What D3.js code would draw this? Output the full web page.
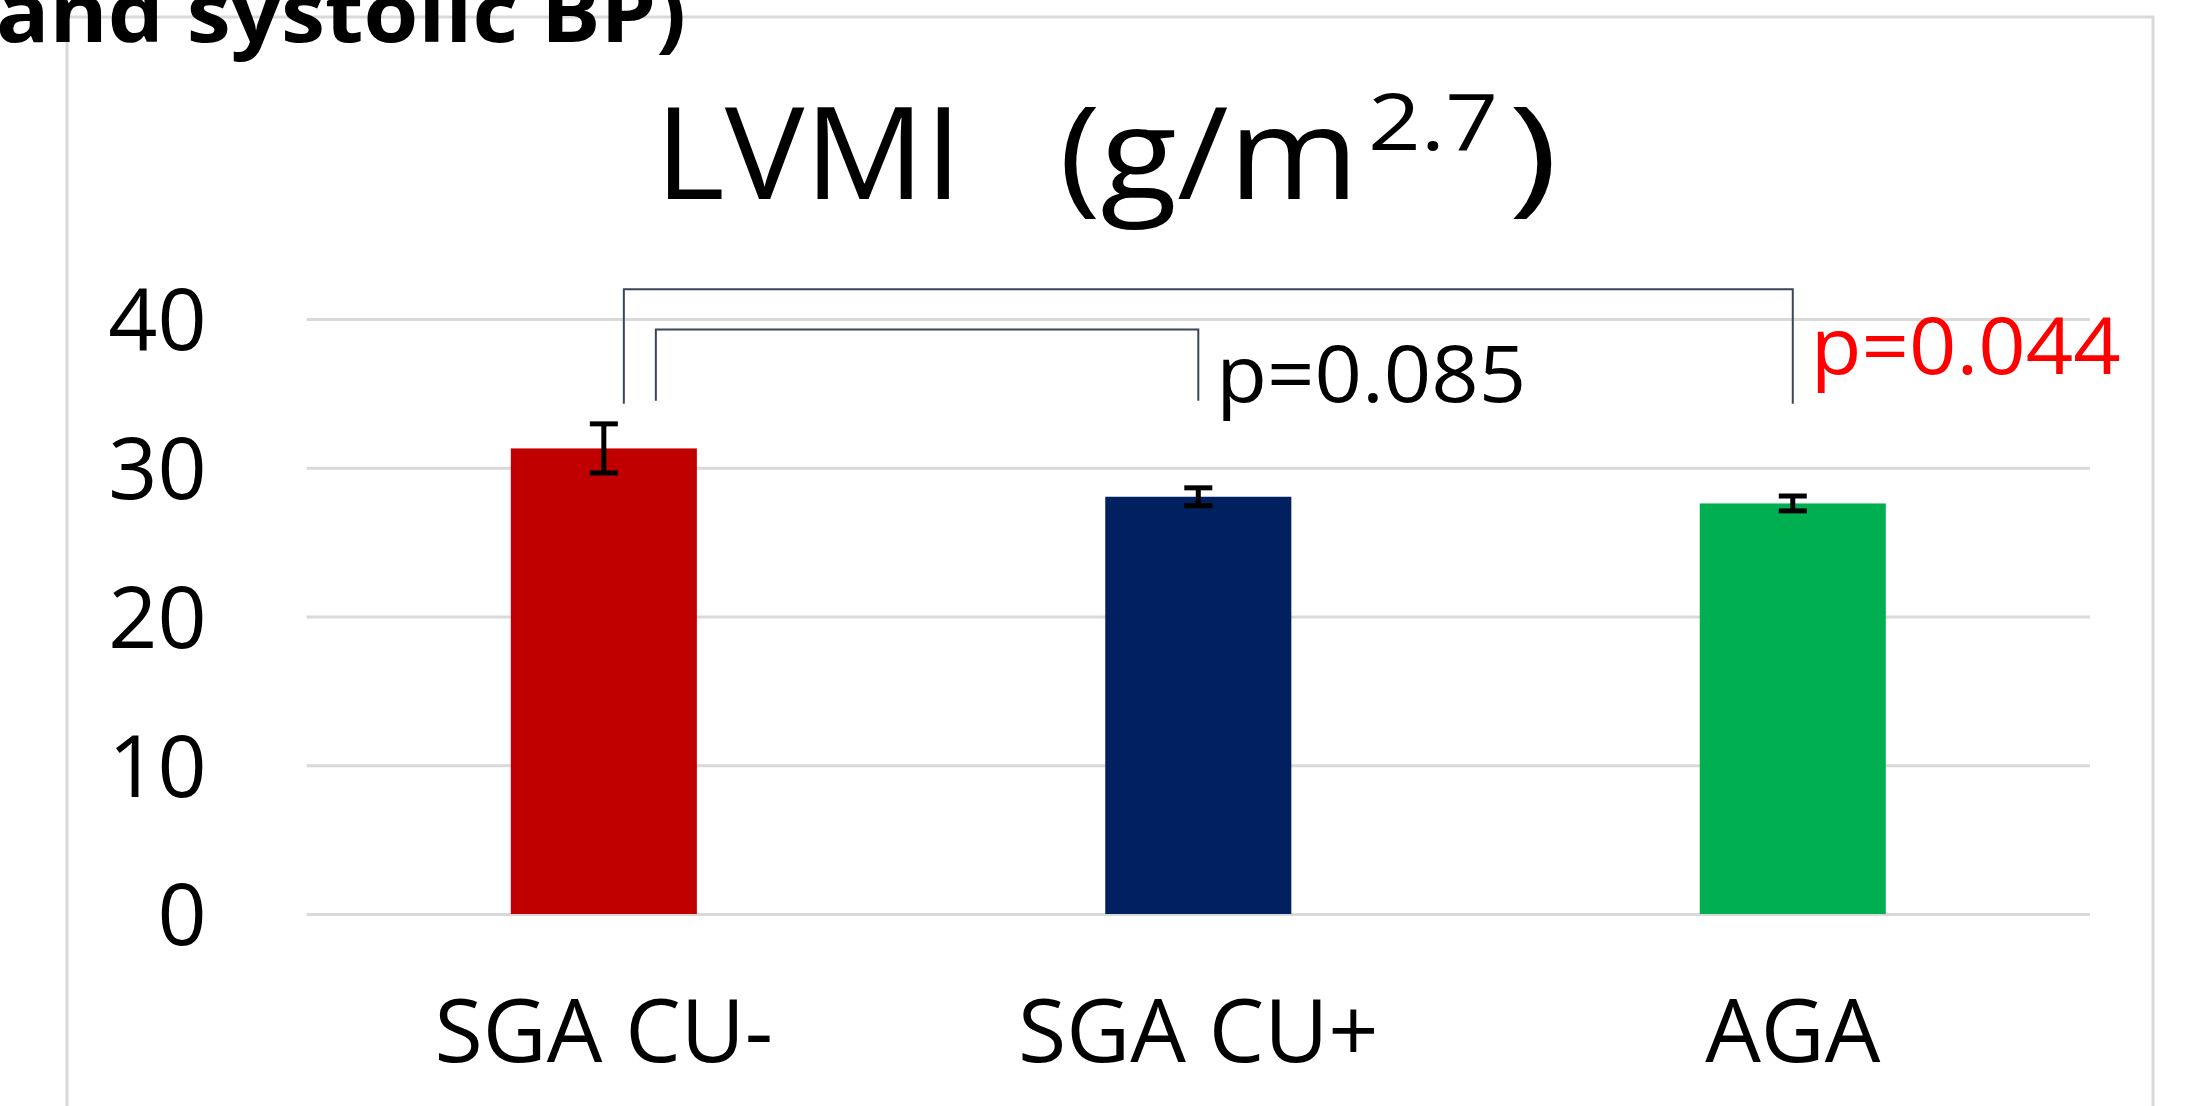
<!DOCTYPE html>
<html>
<head>
<meta charset="utf-8">
<script src="https://cdn.jsdelivr.net/npm/d3@7"></script>
<style>
  html, body { margin: 0; padding: 0; background: #fff; overflow: hidden; }
  svg { display: block; }
  text { font-family: "Open Sans", sans-serif; white-space: pre; }
</style>
</head>
<body>
<div id="chart"></div>
<script>
// values
const groups = ['SGA CU-', 'SGA CU+', 'AGA'];
const means = [31.3, 28.05, 27.6];
const errors = [1.65, 0.6, 0.5];
const barColors = ['#c00000', '#002060', '#00b050'];
const yTicks = [0, 10, 20, 30, 40];

// significance brackets: from/to group, bracket top, leg foot, label baseline (all in y units)
const bracketFrom = ['SGA CU-', 'SGA CU-'];
const bracketTo = ['SGA CU+', 'AGA'];
const bracketTop = [39.3, 42.0];
const bracketFoot = [34.5, 34.3];
const pLabels = ['p=0.085', 'p=0.044'];
const pLabelY = [34.4, 36.3];
const pColors = ['#000000', '#ff0000'];

const W = 2185, H = 1106;
const plot = {left: 306.6, right: 2090, top: 319, bottom: 914};

const svg = d3.select('#chart').append('svg')
  .attr('width', W)
  .attr('height', H);

// outer frame of the slide chart
svg.append('path')
  .attr('d', `M67,${H} L67,17 L2153,17 L2153,${H}`)
  .attr('fill', 'none')
  .attr('stroke', '#d9d9d9')
  .attr('stroke-width', 3);

// cut-off heading above the chart (cut off in the original too)
svg.append('text')
  .attr('x', -4)
  .attr('y', 42)
  .attr('font-size', 82)
  .attr('font-weight', 700)
  .attr('textLength', 690)
  .attr('lengthAdjust', 'spacingAndGlyphs')
  .text('and systolic BP)');

// chart title, pieces placed so their widths match the original
const titleParts = [
  {t: 'LVMI', x: 655, w: 307, size: 129, y: 199},
  {t: '(g/m', x: 1059, w: 300, size: 129, y: 199},
  {t: '2.7', x: 1368, w: 130, size: 78, y: 150},
  {t: ')', x: 1508, w: 50, size: 129, y: 199}
];
svg.selectAll('.title')
  .data(titleParts)
  .enter().append('text')
  .attr('class', 'title')
  .attr('x', d => d.x)
  .attr('y', d => d.y)
  .attr('font-size', d => d.size)
  .attr('textLength', d => d.w)
  .attr('lengthAdjust', 'spacingAndGlyphs')
  .attr('fill', '#000')
  .text(d => d.t);

const x = d3.scaleBand()
  .domain(groups)
  .range([plot.left, plot.right])
  .paddingInner(0.687)
  .paddingOuter(0.3435);

const y = d3.scaleLinear()
  .domain([0, 40])
  .range([plot.bottom, plot.top]);

// gridlines + y labels
const yAxis = svg.append('g')
  .attr('transform', `translate(${plot.left},0)`)
  .call(d3.axisLeft(y).tickValues(yTicks).tickSize(0).tickPadding(0).tickFormat(d3.format('d')));
yAxis.select('.domain').remove();
yAxis.selectAll('.tick line')
  .attr('x1', 0)
  .attr('x2', plot.right - plot.left)
  .attr('stroke', '#d9d9d9')
  .attr('stroke-width', 3);
yAxis.selectAll('.tick text')
  .attr('x', -100)
  .attr('dy', '0.36em')
  .attr('font-size', 86)
  .attr('font-family', '"Open Sans", sans-serif')
  .attr('fill', '#000');

// x labels
const xAxis = svg.append('g')
  .attr('transform', `translate(0,${plot.bottom})`)
  .call(d3.axisBottom(x).tickSize(0).tickPadding(0));
xAxis.select('.domain').remove();
xAxis.selectAll('.tick text')
  .attr('y', 148)
  .attr('dy', 0)
  .attr('font-size', 88)
  .attr('font-family', '"Open Sans", sans-serif')
  .attr('fill', '#000');

// bars
const bars = groups.map((g, i) => ({g, mean: means[i], err: errors[i], color: barColors[i]}));

svg.selectAll('.bar')
  .data(bars)
  .enter().append('rect')
  .attr('class', 'bar')
  .attr('x', d => x(d.g))
  .attr('width', x.bandwidth())
  .attr('y', d => y(d.mean))
  .attr('height', d => y(0) - y(d.mean))
  .attr('fill', d => d.color);

// error bars
const capHalf = 14;
const cx = d => x(d.g) + x.bandwidth() / 2;
const eb = svg.selectAll('.err')
  .data(bars)
  .enter().append('g')
  .attr('class', 'err')
  .attr('stroke', '#000')
  .attr('stroke-width', 5);
eb.append('line')
  .attr('x1', cx)
  .attr('x2', cx)
  .attr('y1', d => y(d.mean + d.err))
  .attr('y2', d => y(d.mean - d.err));
eb.append('line')
  .attr('x1', d => cx(d) - capHalf)
  .attr('x2', d => cx(d) + capHalf)
  .attr('y1', d => y(d.mean + d.err))
  .attr('y2', d => y(d.mean + d.err));
eb.append('line')
  .attr('x1', d => cx(d) - capHalf)
  .attr('x2', d => cx(d) + capHalf)
  .attr('y1', d => y(d.mean - d.err))
  .attr('y2', d => y(d.mean - d.err));

// significance brackets
const legShift = [52, 20];  // left leg sits right of the bar centre
const brackets = bracketFrom.map((f, i) => ({
  x1: x(f) + x.bandwidth() / 2 + legShift[i],
  x2: x(bracketTo[i]) + x.bandwidth() / 2,
  top: bracketTop[i], foot: bracketFoot[i],
  label: pLabels[i], labelY: pLabelY[i], color: pColors[i]
}));

svg.selectAll('.bracket')
  .data(brackets)
  .enter().append('path')
  .attr('class', 'bracket')
  .attr('d', d => `M${d.x1},${y(d.foot)} L${d.x1},${y(d.top)} L${d.x2},${y(d.top)} L${d.x2},${y(d.foot)}`)
  .attr('fill', 'none')
  .attr('stroke', '#3a4656')
  .attr('stroke-width', 2);

svg.selectAll('.plabel')
  .data(brackets)
  .enter().append('text')
  .attr('class', 'plabel')
  .attr('x', d => d.x2 + 18)
  .attr('y', d => y(d.labelY))
  .attr('font-size', 78)
  .attr('textLength', 310)
  .attr('lengthAdjust', 'spacingAndGlyphs')
  .attr('fill', d => d.color)
  .text(d => d.label);
</script>
</body>
</html>
